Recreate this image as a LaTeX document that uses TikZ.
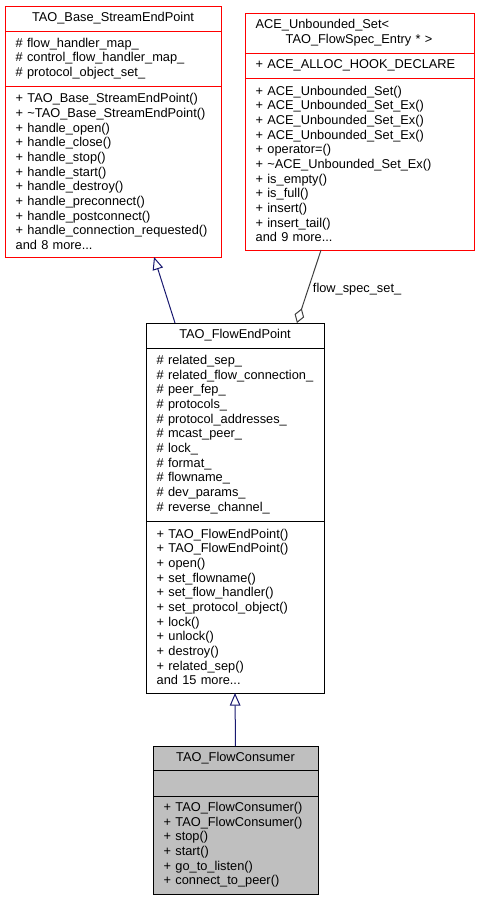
\documentclass[tikz,border=0pt]{standalone}
\usepackage{fontspec}
\setmainfont{Liberation Sans}
\usetikzlibrary{positioning, calc, arrows.meta}
\definecolor{edgeblue}{RGB}{25, 25, 112}
\definecolor{edgegray}{RGB}{64, 64, 64}
\definecolor{classred}{RGB}{255, 0, 0}
\definecolor{classgray}{RGB}{191, 191, 191}
\newcommand{\umlfont}{\fontsize{9.6}{11}\selectfont}

\begin{document}
\begin{tikzpicture}[x=0.75pt, y=-0.75pt,
  clspart/.style={draw, line width=0.75pt, font=\umlfont, inner xsep=8pt, inner ysep=0pt, outer sep=0pt, align=left, anchor=north},
  clstitle/.style={clspart, align=center},
  inherit/.style={draw=edgeblue, line width=0.75pt, -{Triangle[open, length=9.5pt, width=8pt]}},
  aggr/.style={draw=edgegray, line width=0.75pt, {Diamond[open, length=11.5pt, width=7.5pt]}-}
]
  \fill[white] (0,0) rectangle (480,901);
  \useasboundingbox (0,0) rectangle (480,901);

  % TAO_Base_StreamEndPoint
  \node[clstitle, draw=classred, text width=146pt, minimum height=18.75pt] (baseT) at (113,6) {TAO\_Base\_StreamEndPoint};
  \node[clspart, draw=classred, text width=146pt, minimum height=41.25pt, below=0pt of baseT] (baseA) {
    \# flow\_handler\_map\_\\
    \# control\_flow\_handler\_map\_\\
    \# protocol\_object\_set\_
  };
  \node[clspart, draw=classred, text width=146pt, minimum height=128.25pt, below=0pt of baseA] (baseM) {
    + TAO\_Base\_StreamEndPoint()\\
    + \textasciitilde TAO\_Base\_StreamEndPoint()\\
    + handle\_open()\\
    + handle\_close()\\
    + handle\_stop()\\
    + handle\_start()\\
    + handle\_destroy()\\
    + handle\_preconnect()\\
    + handle\_postconnect()\\
    + handle\_connection\_requested()\\
    and 8 more...
  };

  % ACE_Unbounded_Set< TAO_FlowSpec_Entry * >
  \node[clspart, draw=classred, text width=155.75pt, minimum height=30pt] (setT) at (359.5,13) {
    ACE\_Unbounded\_Set<\\
    \hspace*{22.5pt}TAO\_FlowSpec\_Entry * >
  };
  \node[clspart, draw=classred, text width=155.75pt, minimum height=18.75pt, below=0pt of setT] (setA) {+ ACE\_ALLOC\_HOOK\_DECLARE};
  \node[clspart, draw=classred, text width=155.75pt, minimum height=129pt, below=0pt of setA] (setM) {
    + ACE\_Unbounded\_Set()\\
    + ACE\_Unbounded\_Set\_Ex()\\
    + ACE\_Unbounded\_Set\_Ex()\\
    + ACE\_Unbounded\_Set\_Ex()\\
    + operator=()\\
    + \textasciitilde ACE\_Unbounded\_Set\_Ex()\\
    + is\_empty()\\
    + is\_full()\\
    + insert()\\
    + insert\_tail()\\
    and 9 more...
  };

  % TAO_FlowEndPoint
  \node[clstitle, text width=117.5pt, minimum height=18.75pt] (fepT) at (235,323) {TAO\_FlowEndPoint};
  \node[clspart, text width=117.5pt, minimum height=129.75pt, below=0pt of fepT] (fepA) {
    \# related\_sep\_\\
    \# related\_flow\_connection\_\\
    \# peer\_fep\_\\
    \# protocols\_\\
    \# protocol\_addresses\_\\
    \# mcast\_peer\_\\
    \# lock\_\\
    \# format\_\\
    \# flowname\_\\
    \# dev\_params\_\\
    \# reverse\_channel\_
  };
  \node[clspart, text width=117.5pt, minimum height=129pt, below=0pt of fepA] (fepM) {
    + TAO\_FlowEndPoint()\\
    + TAO\_FlowEndPoint()\\
    + open()\\
    + set\_flowname()\\
    + set\_flow\_handler()\\
    + set\_protocol\_object()\\
    + lock()\\
    + unlock()\\
    + destroy()\\
    + related\_sep()\\
    and 15 more...
  };

  % TAO_FlowConsumer
  \node[clstitle, fill=classgray, text width=107.75pt, minimum height=18pt] (fcT) at (235.5,746) {TAO\_FlowConsumer};
  \node[clspart, fill=classgray, text width=107.75pt, minimum height=19.5pt, below=0pt of fcT] (fcA) {};
  \node[clspart, fill=classgray, text width=107.75pt, minimum height=73.5pt, below=0pt of fcA] (fcM) {
    + TAO\_FlowConsumer()\\
    + TAO\_FlowConsumer()\\
    + stop()\\
    + start()\\
    + go\_to\_listen()\\
    + connect\_to\_peer()
  };

  % edges
  \draw[inherit] ($(fepT.north west)!0.163!(fepT.north east)$) -- ($(baseM.south west)!0.69!(baseM.south east)$);
  \draw[aggr] ($(fepT.north west)!0.848!(fepT.north east)$) -- node[pos=0.46, right, font=\umlfont] (aggrlbl) {flow\_spec\_set\_} ($(setM.south west)!0.332!(setM.south east)$);
  \draw[inherit] (fcT.north) -- (fepM.south);
\end{tikzpicture}
\end{document}
